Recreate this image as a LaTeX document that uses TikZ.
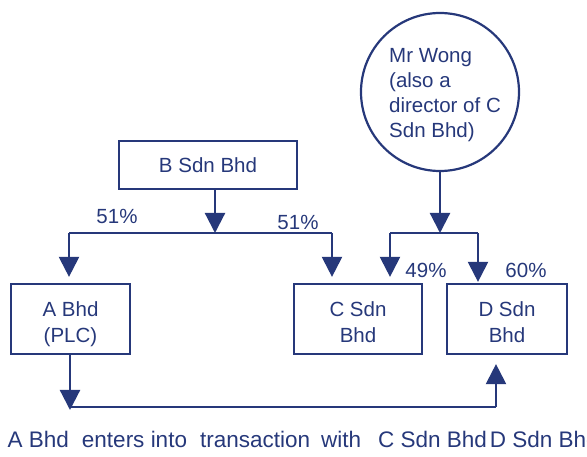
\documentclass[tikz,border=0pt]{standalone}
\usepackage{fontspec}
\setmainfont{Liberation Sans}
\usetikzlibrary{arrows.meta}
\definecolor{navy}{HTML}{26387A}
\newcommand{\boxtxt}[1]{\raisebox{-5pt}[\height][\depth]{\begin{tabular}{@{}c@{}}#1\end{tabular}}}
\tikzset{
  box/.style={draw=navy, line width=2.2pt, rectangle, inner sep=0pt, text=navy,
    font=\fontsize{20.5}{26}\selectfont},
  ln/.style={draw=navy, line width=2.2pt},
  arr/.style={ln, -{Triangle[width=20pt,length=20pt]}},
  lbl/.style={text=navy, inner sep=0pt, font=\fontsize{20.5}{25}\selectfont},
}
\begin{document}
\begin{tikzpicture}[x=1pt,y=-1pt]
\useasboundingbox (0,0) rectangle (587,457);
\clip (0,0) rectangle (587,457);
% nodes
\node[box, minimum width=178pt, minimum height=48pt] (B) at (208,165) {B Sdn Bhd};
\node[draw=navy, line width=2.2pt, circle, minimum size=158pt, inner sep=0pt] (W) at (440,92) {};
\node[lbl, align=left, anchor=west] (Wt) at (389,95) {Mr Wong\\(also a\\director of C\\Sdn Bhd)};
\node[box, minimum width=119pt, minimum height=70pt] (A) at (70.5,319) {\boxtxt{A Bhd\\(PLC)}};
\node[box, minimum width=128pt, minimum height=70pt] (C) at (358,319) {\boxtxt{C Sdn\\Bhd}};
\node[box, minimum width=120pt, minimum height=70pt] (D) at (507,319) {\boxtxt{D Sdn\\Bhd}};
% junction coordinates
\coordinate (bj) at (215,233);
\coordinate (bl) at (69,233);
\coordinate (br) at (332,233);
\coordinate (wj) at (440,233);
\coordinate (wl) at (390,233);
\coordinate (wr) at (478,233);
\coordinate (aj) at (70,407);
\coordinate (dj) at (496,407);
% B connectors
\draw[arr] (B.south -| bj) -- (bj);
\draw[ln] (bl) -- (br);
\draw[arr] (bl) -- ([yshift=6pt]bl |- A.north);
\draw[arr] (br) -- ([yshift=6pt]br |- C.north);
% Wong connectors
\draw[arr] (W.south) -- (wj);
\draw[ln] (wl) -- (wr);
\draw[arr] (wl) -- ([yshift=6pt]wl |- C.north);
\draw[arr] (wr) -- ([yshift=1pt]wr |- D.north);
% transaction
\draw[arr] (A.south -| aj) -- ([yshift=-3pt]aj);
\draw[ln] (aj) -- (dj);
\draw[arr] (dj) -- ([yshift=-9pt]dj |- D.south);
% labels
\node[lbl, anchor=base] (p1) at (117,224) {51\%};
\node[lbl, anchor=base] (p2) at (298,230) {51\%};
\node[lbl, anchor=base] (p3) at (426,278) {49\%};
\node[lbl, anchor=base] (p4) at (526,278) {60\%};
\node[lbl, anchor=base west, font=\fontsize{22.5}{26}\selectfont] (t) at (7.5,447)
  {A Bhd\hspace{13pt}enters into\hspace{13pt}transaction\hspace{11pt}with\hspace{17pt}C Sdn Bhd\hspace{3pt}D Sdn Bhd};
\end{tikzpicture}
\end{document}
